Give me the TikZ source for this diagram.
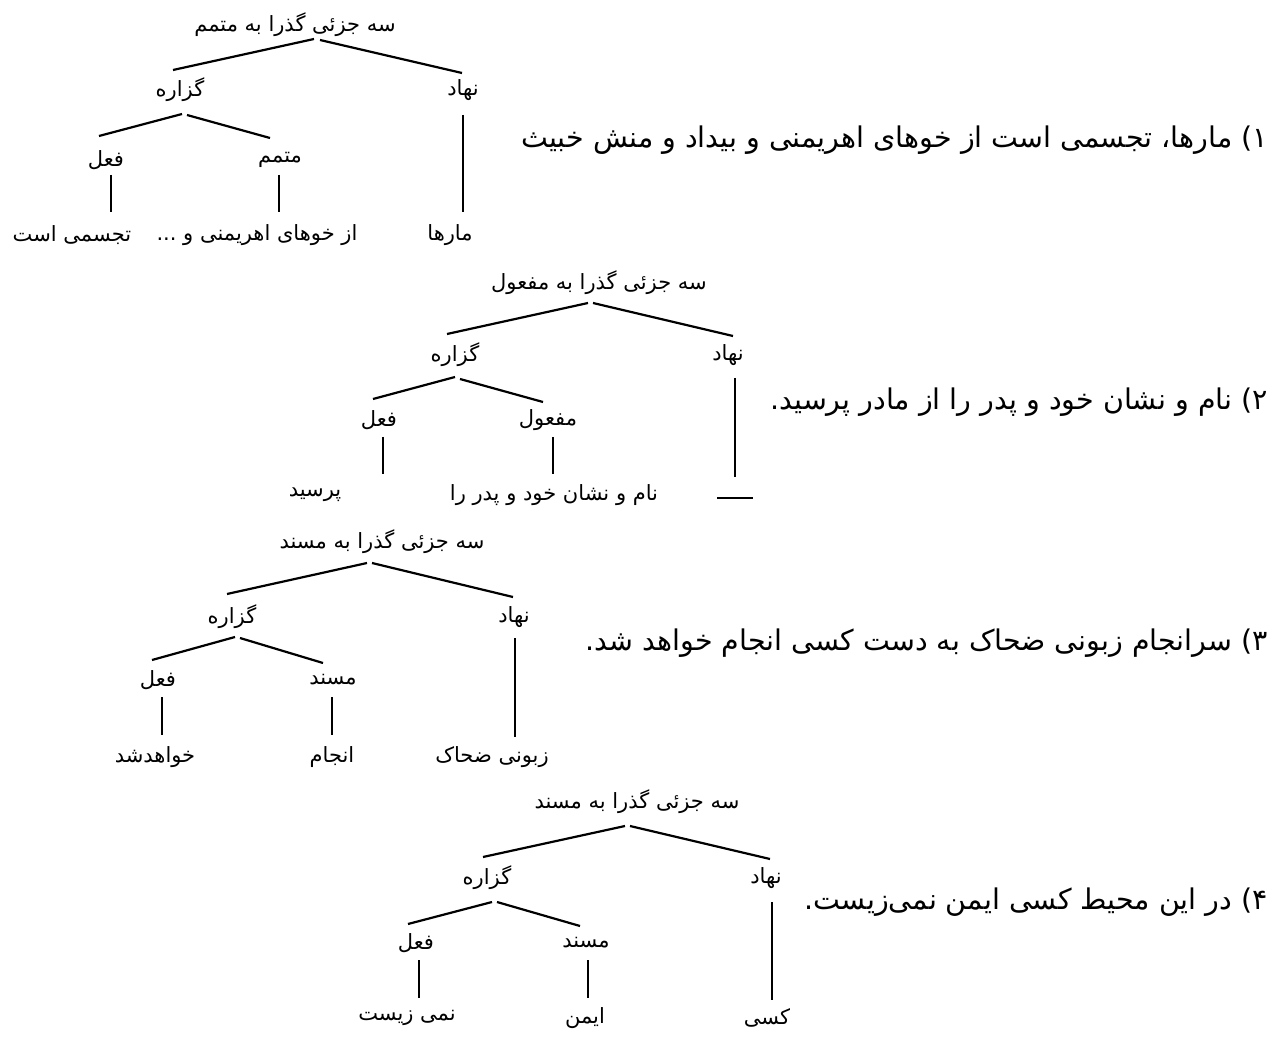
\documentclass[tikz,border=0pt]{standalone}
\usepackage{fontspec}
\usetikzlibrary{calc}
\TeXXeTstate=1
\newfontfamily\fafont[Script=Arabic]{DejaVu Sans}
\newcommand{\fatxt}[1]{\beginR #1\endR}
\begin{document}
\begin{tikzpicture}[x=1pt,y=-1pt,
  lbl/.style={font=\fafont\fontsize{21}{25}\selectfont, inner sep=0pt},
  sent/.style={font=\fafont\fontsize{28.5}{33}\selectfont, inner sep=0pt, anchor=east},
  edge/.style={line width=2.2pt}]
\useasboundingbox (0,0) rectangle (1280,1040);

% ---------- Tree 1 ----------
\node[lbl] (r1) at (295,25) {\fatxt{سه جزئی گذرا به متمم}};
\node[lbl] (g1) at (180,90) {\fatxt{گزاره}};
\node[lbl] (n1) at (463,90) {\fatxt{نهاد}};
\node[lbl] (f1) at (106,160) {\fatxt{فعل}};
\node[lbl] (m1) at (280,160) {\fatxt{متمم}};
\node[lbl] (l1a) at (72,235) {\fatxt{تجسمی است}};
\node[lbl] (l1b) at (257,235) {\fatxt{از خوهای اهریمنی و ...}};
\node[lbl] (l1c) at (450,235) {\fatxt{مارها}};
\draw[edge] ($(r1)+(19,14)$) -- ($(g1)+(-7,-20)$);
\draw[edge] ($(r1)+(25,15)$) -- ($(n1)+(-1,-17)$);
\draw[edge] ($(g1)+(2,24)$) -- ($(f1)+(-7,-24)$);
\draw[edge] ($(g1)+(7,25)$) -- ($(m1)+(-10,-22)$);
\draw[edge] ($(f1)+(5,15)$) -- ($(l1a)+(39,-23)$);
\draw[edge] ($(m1)+(-1,15)$) -- ($(l1b)+(22,-23)$);
\draw[edge] ($(n1)+(0,25)$) -- ($(l1c)+(13,-23)$);
\node[sent] (s1) at (1268,140) {\fatxt{۱) مارها، تجسمی است از خوهای اهریمنی و بیداد و منش خبیث}};

% ---------- Tree 2 ----------
\node[lbl] (r2) at (599,283) {\fatxt{سه جزئی گذرا به مفعول}};
\node[lbl] (g2) at (455,355) {\fatxt{گزاره}};
\node[lbl] (n2) at (728,355) {\fatxt{نهاد}};
\node[lbl] (f2) at (379,420) {\fatxt{فعل}};
\node[lbl] (m2) at (548,420) {\fatxt{مفعول}};
\node[lbl] (l2a) at (315,495) {\fatxt{پرسید}};
\node[lbl] (l2b) at (554,495) {\fatxt{نام و نشان خود و پدر را}};
\node[inner sep=0pt] (l2c) at (735,498) {\rule{36pt}{2.2pt}};
\draw[edge] ($(r2)+(-11,20)$) -- ($(g2)+(-8,-21)$);
\draw[edge] ($(r2)+(-6,20)$) -- ($(n2)+(5,-19)$);
\draw[edge] ($(g2)+(0,22)$) -- ($(f2)+(-6,-21)$);
\draw[edge] ($(g2)+(5,24)$) -- ($(m2)+(-5,-18)$);
\draw[edge] ($(f2)+(4,17)$) -- ($(l2a)+(68,-21)$);
\draw[edge] ($(m2)+(5,17)$) -- ($(l2b)+(-1,-21)$);
\draw[edge] ($(n2)+(7,23)$) -- ($(l2c)+(0,-21)$);
\node[sent] (s2) at (1268,402) {\fatxt{۲) نام و نشان خود و پدر را از مادر پرسید.}};

% ---------- Tree 3 ----------
\node[lbl] (r3) at (382,542) {\fatxt{سه جزئی گذرا به مسند}};
\node[lbl] (g3) at (232,617) {\fatxt{گزاره}};
\node[lbl] (n3) at (514,617) {\fatxt{نهاد}};
\node[lbl] (f3) at (158,680) {\fatxt{فعل}};
\node[lbl] (m3) at (333,680) {\fatxt{مسند}};
\node[lbl] (l3a) at (155,757) {\fatxt{خواهدشد}};
\node[lbl] (l3b) at (332,757) {\fatxt{انجام}};
\node[lbl] (l3c) at (492,757) {\fatxt{زبونی ضحاک}};
\draw[edge] ($(r3)+(-15,21)$) -- ($(g3)+(-5,-23)$);
\draw[edge] ($(r3)+(-10,21)$) -- ($(n3)+(-1,-20)$);
\draw[edge] ($(g3)+(3,20)$) -- ($(f3)+(-6,-20)$);
\draw[edge] ($(g3)+(8,21)$) -- ($(m3)+(-10,-17)$);
\draw[edge] ($(f3)+(4,17)$) -- ($(l3a)+(7,-22)$);
\draw[edge] ($(m3)+(-1,17)$) -- ($(l3b)+(0,-22)$);
\draw[edge] ($(n3)+(1,21)$) -- ($(l3c)+(23,-20)$);
\node[sent] (s3) at (1268,643) {\fatxt{۳) سرانجام زبونی ضحاک به دست کسی انجام خواهد شد.}};

% ---------- Tree 4 ----------
\node[lbl] (r4) at (637,802) {\fatxt{سه جزئی گذرا به مسند}};
\node[lbl] (g4) at (487,878) {\fatxt{گزاره}};
\node[lbl] (n4) at (766,878) {\fatxt{نهاد}};
\node[lbl] (f4) at (416,943) {\fatxt{فعل}};
\node[lbl] (m4) at (586,943) {\fatxt{مسند}};
\node[lbl] (l4a) at (407,1018) {\fatxt{نمی زیست}};
\node[lbl] (l4b) at (585,1018) {\fatxt{ایمن}};
\node[lbl] (l4c) at (767,1018) {\fatxt{کسی}};
\draw[edge] ($(r4)+(-12,24)$) -- ($(g4)+(-4,-21)$);
\draw[edge] ($(r4)+(-7,24)$) -- ($(n4)+(4,-19)$);
\draw[edge] ($(g4)+(5,24)$) -- ($(f4)+(-8,-19)$);
\draw[edge] ($(g4)+(10,24)$) -- ($(m4)+(-6,-17)$);
\draw[edge] ($(f4)+(3,17)$) -- ($(l4a)+(12,-20)$);
\draw[edge] ($(m4)+(2,17)$) -- ($(l4b)+(3,-20)$);
\draw[edge] ($(n4)+(6,24)$) -- ($(l4c)+(5,-18)$);
\node[sent] (s4) at (1268,902) {\fatxt{۴) در این محیط کسی ایمن نمی‌زیست.}};
\end{tikzpicture}
\end{document}
